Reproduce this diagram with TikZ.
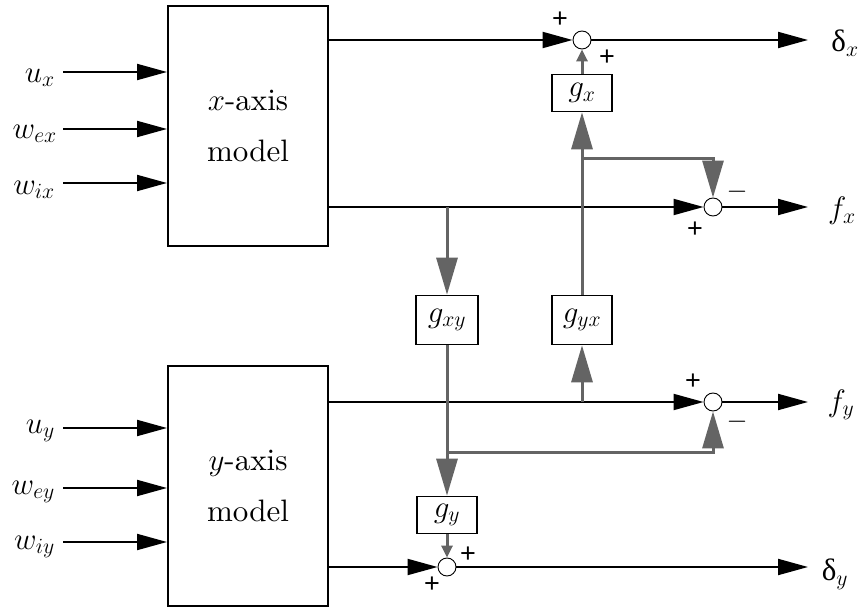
\RequirePackage{fix-cm}
\documentclass[tikz,border=0pt]{standalone}
\usepackage{fontspec}
\usepackage{xcolor}
\usepackage{tikz}
\usetikzlibrary{arrows.meta,positioning}

\setmainfont{lmroman10-regular.otf}[ItalicFont=lmroman10-italic.otf,
  BoldFont=lmroman10-bold.otf]
\newfontfamily\grkfont{Liberation Serif}
\newfontfamily\signfont{Liberation Sans}
\definecolor{fbgray}{HTML}{646464}

\begin{document}
\begin{tikzpicture}[x=1pt, y=-1pt,
  model/.style={draw, line width=2pt, minimum width=160pt, minimum height=240pt,
    align=center, font=\fontsize{31}{51}\selectfont},
  gain/.style={draw, line width=1.6pt, fill=white, inner sep=0pt,
    minimum width=60pt, minimum height=37pt, font=\fontsize{31}{33}\selectfont},
  sumpt/.style={circle, draw, line width=0.9pt, fill=white, minimum size=18pt, inner sep=0pt},
  sig/.style={line width=2pt, -{Triangle[length=30pt,width=16pt]}},
  fb/.style={fbgray, line width=3pt, -{Triangle[length=37pt,width=21pt]}},
  fbs/.style={fbgray, line width=3pt, -{Triangle[length=12pt,width=11pt]}},
  lbl/.style={font=\fontsize{31}{33}\selectfont, inner sep=0pt},
  sgn/.style={font=\signfont\fontsize{27}{29}\selectfont, inner sep=0pt},
]
  \useasboundingbox (0,0) rectangle (862,609);

  % plant blocks
  \node[model] (xmod) at (248,126) {$x$-axis\\model};
  \node[model] (ymod) at (248,486) {$y$-axis\\model};

  % sum junctions
  \node[sumpt] (sx)  at (582,40)  {};
  \node[sumpt] (sfx) at (713,207) {};
  \node[sumpt] (sfy) at (713,402) {};
  \node[sumpt] (sy)  at (447,567) {};

  % coupling gains
  \node[gain] (gx)  at (582,93)  {$g_x$};
  \node[gain, minimum width=62pt, minimum height=49pt] (gxy) at (447,320) {$g_{xy}$};
  \node[gain, minimum height=49pt] (gyx) at (582,320) {$g_{yx}$};
  \node[gain] (gy)  at (447,515) {$g_y$};

  % inputs
  \coordinate (ux)  at (63,72);
  \coordinate (wex) at (63,129);
  \coordinate (wix) at (63,183);
  \coordinate (uy)  at (63,428);
  \coordinate (wey) at (63,488);
  \coordinate (wiy) at (63,542);
  \node[lbl, anchor=east] (uxl)  at (55,78)  {$u_x$};
  \node[lbl, anchor=east] (wexl) at (57,134) {$w_{ex}$};
  \node[lbl, anchor=east] (wixl) at (55,190) {$w_{ix}$};
  \node[lbl, anchor=east] (uyl)  at (55,431) {$u_y$};
  \node[lbl, anchor=east] (weyl) at (55,492) {$w_{ey}$};
  \node[lbl, anchor=east] (wiyl) at (55,547) {$w_{iy}$};
  \draw[sig] (ux)  -- (ux  -| xmod.west);
  \draw[sig] (wex) -- (wex -| xmod.west);
  \draw[sig] (wix) -- (wix -| xmod.west);
  \draw[sig] (uy)  -- (uy  -| ymod.west);
  \draw[sig] (wey) -- (wey -| ymod.west);
  \draw[sig] (wiy) -- (wiy -| ymod.west);

  % outputs
  \coordinate (dxo) at (808,40);
  \coordinate (fxo) at (808,207);
  \coordinate (fyo) at (808,402);
  \coordinate (dyo) at (808,567);
  \draw[sig] (xmod.east |- sx)  -- (sx);
  \draw[sig] (xmod.east |- sfx) -- (sfx);
  \draw[sig] (ymod.east |- sfy) -- (sfy);
  \draw[sig] (ymod.east |- sy)  -- (sy);
  \draw[sig] (sx)  -- (dxo);
  \draw[sig] (sfx) -- (fxo);
  \draw[sig] (sfy) -- (fyo);
  \draw[sig] (sy)  -- (dyo);
  \node[lbl] (dxl) at (845,43)  {{\grkfont δ}$_x$};
  \node[lbl] (fxl) at (842,211) {$f_x$};
  \node[lbl] (fyl) at (841,405) {$f_y$};
  \node[lbl] (dyl) at (835,574) {{\grkfont δ}$_y$};

  % cross coupling
  \coordinate (bx) at (582,159);
  \coordinate (by) at (447,452);
  \draw[fb] (gxy |- sfx) -- (gxy);
  \draw[fb] (gxy) -- (gy);
  \draw[fb] (by) -| (sfy);
  \draw[fbs] (gy) -- (sy);
  \draw[fb] (gyx |- sfy) -- (gyx);
  \draw[fb] (gyx) -- (gx);
  \draw[fb] (bx) -| (sfx);
  \draw[fbs] (gx) -- (sx);

  % signs
  \node[sgn] at (560,20)  {+};
  \node[sgn] at (607,58)  {+};
  \node[sgn] at (737,192) {$-$};
  \node[sgn] at (695,230) {+};
  \node[sgn] at (693,382) {+};
  \node[sgn] at (737,422) {$-$};
  \node[sgn] at (468,555) {+};
  \node[sgn] at (432,585) {+};
\end{tikzpicture}
\end{document}
